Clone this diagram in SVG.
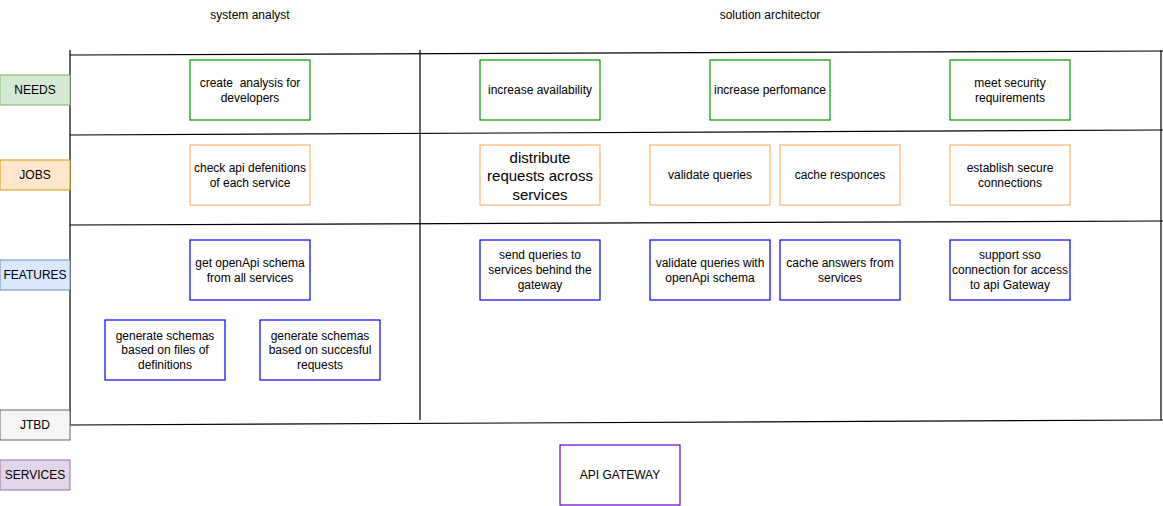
<svg xmlns="http://www.w3.org/2000/svg" width="1163" height="506" viewBox="0 0 1163 506">
<style>
text{font-family:"Liberation Sans",Arial,sans-serif;font-size:12px;fill:#000;text-anchor:middle}
.need{fill:#fff;stroke:#009900;stroke-width:1.2}
.job{fill:#fff;stroke:#FFB570;stroke-width:1.2}
.feat{fill:#fff;stroke:#0000FF;stroke-width:1.2}
.svc{fill:#fff;stroke:#6600CC;stroke-width:1.2}
.ln{stroke:#000;stroke-width:1.2;fill:none}
</style>
<rect width="1163" height="506" fill="#fff"/>
<g id="headers">
<text x="250" y="19">system analyst</text>
<text x="770" y="19">solution architector</text>
</g>
<g id="grid">
<line class="ln" x1="70" y1="50" x2="70" y2="425"/>
<line class="ln" x1="420" y1="50" x2="420" y2="420"/>
<line class="ln" x1="1161" y1="50" x2="1161" y2="420"/>
<line class="ln" x1="70" y1="55" x2="1163" y2="51"/>
<line class="ln" x1="70" y1="135" x2="1163" y2="130"/>
<line class="ln" x1="70" y1="225" x2="1163" y2="221"/>
<line class="ln" x1="70" y1="425" x2="1163" y2="420"/>
</g>
<g id="lbl-needs"><rect x="0" y="75" width="70" height="30" fill="#d5e8d4" stroke="#82b366"/><text x="35" y="94">NEEDS</text></g>
<g id="lbl-jobs"><rect x="0" y="160" width="70" height="30" fill="#ffe6cc" stroke="#d79b00"/><text x="35" y="179">JOBS</text></g>
<g id="lbl-features"><rect x="0" y="260" width="70" height="30" fill="#dae8fc" stroke="#6c8ebf"/><text x="35" y="279">FEATURES</text></g>
<g id="lbl-jtbd"><rect x="0" y="410" width="70" height="30" fill="#f5f5f5" stroke="#666666"/><text x="35" y="429">JTBD</text></g>
<g id="lbl-services"><rect x="0" y="460" width="70" height="30" fill="#e1d5e7" stroke="#9673a6"/><text x="35" y="479">SERVICES</text></g>

<g id="n1"><rect class="need" x="190" y="60" width="120" height="60"/><text x="250" y="87">create&#160; analysis for</text><text x="250" y="102">developers</text></g>
<g id="n2"><rect class="need" x="480" y="60" width="120" height="60"/><text x="540" y="94">increase availability</text></g>
<g id="n3"><rect class="need" x="710" y="60" width="120" height="60"/><text x="770" y="94">increase perfomance</text></g>
<g id="n4"><rect class="need" x="950" y="60" width="120" height="60"/><text x="1010" y="87">meet security</text><text x="1010" y="102">requirements</text></g>

<g id="j1"><rect class="job" x="190" y="145" width="120" height="60"/><text x="250" y="172">check api defenitions</text><text x="250" y="187">of each service</text></g>
<g id="j2"><rect class="job" x="480" y="145" width="120" height="60"/><text x="540" y="163" style="font-size:15px">distribute</text><text x="540" y="181" style="font-size:15px">requests across</text><text x="540" y="200" style="font-size:15px">services</text></g>
<g id="j3"><rect class="job" x="650" y="145" width="120" height="60"/><text x="710" y="179">validate queries</text></g>
<g id="j4"><rect class="job" x="780" y="145" width="120" height="60"/><text x="840" y="179">cache responces</text></g>
<g id="j5"><rect class="job" x="950" y="145" width="120" height="60"/><text x="1010" y="172">establish secure</text><text x="1010" y="187">connections</text></g>

<g id="f1"><rect class="feat" x="190" y="240" width="120" height="60"/><text x="250" y="267">get openApi schema</text><text x="250" y="282">from all services</text></g>
<g id="f2"><rect class="feat" x="480" y="240" width="120" height="60"/><text x="540" y="259">send queries to</text><text x="540" y="274">services behind the</text><text x="540" y="289">gateway</text></g>
<g id="f3"><rect class="feat" x="650" y="240" width="120" height="60"/><text x="710" y="267">validate queries with</text><text x="710" y="282">openApi schema</text></g>
<g id="f4"><rect class="feat" x="780" y="240" width="120" height="60"/><text x="840" y="267">cache answers from</text><text x="840" y="282">services</text></g>
<g id="f5"><rect class="feat" x="950" y="240" width="120" height="60"/><text x="1010" y="259">support sso</text><text x="1010" y="274">connection for access</text><text x="1010" y="289">to api Gateway</text></g>
<g id="f6"><rect class="feat" x="105" y="320" width="120" height="60"/><text x="165" y="340">generate schemas</text><text x="165" y="354">based on files of</text><text x="165" y="369">definitions</text></g>
<g id="f7"><rect class="feat" x="260" y="320" width="120" height="60"/><text x="320" y="340">generate schemas</text><text x="320" y="354">based on succesful</text><text x="320" y="369">requests</text></g>

<g id="s1"><rect class="svc" x="560" y="445" width="120" height="60"/><text x="620" y="479">API GATEWAY</text></g>
<g id="connectors"></g>
</svg>
